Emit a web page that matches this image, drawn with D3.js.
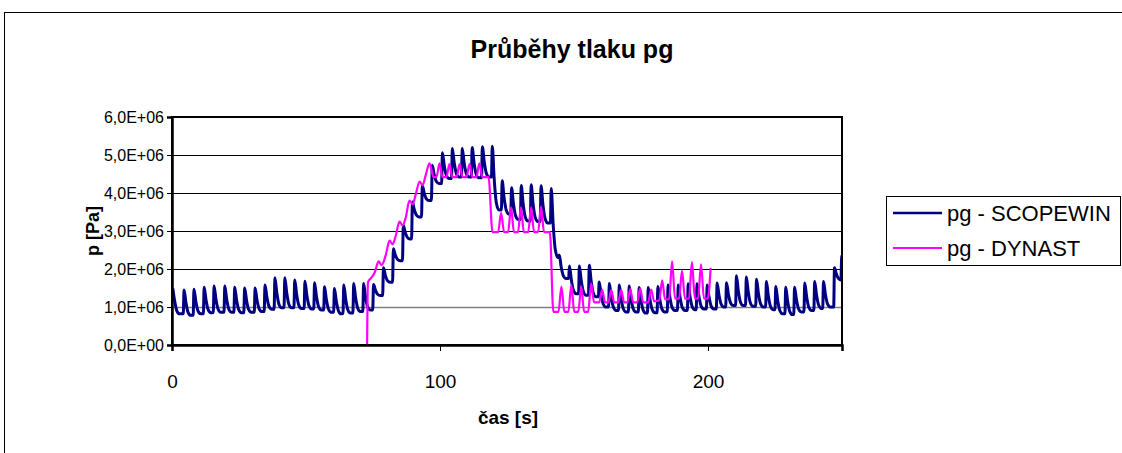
<!DOCTYPE html>
<html>
<head>
<meta charset="utf-8">
<script src="https://cdn.jsdelivr.net/npm/d3@7"></script>
<style>
  body { margin: 0; background: #fff; }
  text { font-family: "Liberation Sans", Arial, sans-serif; }
</style>
</head>
<body>
<svg id="chart" width="1122" height="453"></svg>
<script>
// ---- data (time in s, pressure in MPa) ----
var seriesNames = ["pg - SCOPEWIN", "pg - DYNAST"];
var xTicks = [0, 100, 200];
var yTicks = [0, 1e6, 2e6, 3e6, 4e6, 5e6, 6e6];

// SCOPEWIN: one row per pulse -> start time, peak, low after the pulse
var scopeT = [0.0, 4.2, 7.9, 11.7, 15.4, 19.4, 23.1, 26.8, 30.7, 34.4, 38.1, 41.8, 45.5, 49.3, 52.9, 56.6,
              60.3, 63.8, 67.5, 71.2, 74.9, 78.6, 82.3, 86.0, 89.4, 93.1, 96.8, 100.6, 104.3, 108.0, 111.7,
              115.5, 119.2, 122.9, 126.4, 130.0, 133.7, 137.4, 141.2, 144.2, 148.0, 151.7, 155.4, 159.1,
              162.9, 166.6, 170.3, 174.0, 177.4, 181.0, 184.8, 188.6, 192.3, 195.6, 199.4, 203.1, 206.6,
              210.3, 214.0, 217.8, 221.5, 225.0, 228.7, 232.0, 235.8, 239.5, 242.8, 246.9, 249.6];
var scopePeak = [1.49, 1.45, 1.47, 1.52, 1.55, 1.55, 1.52, 1.50, 1.50, 1.58, 1.77, 1.77, 1.71, 1.68, 1.64, 1.53,
                 1.49, 1.58, 1.62, 1.62, 1.59, 2.03, 2.53, 3.15, 3.76, 4.20, 4.73, 5.06, 5.17, 5.17, 5.20,
                 5.22, 5.23, 4.32, 4.14, 4.20, 4.22, 4.19, 4.12, 2.37, 2.08, 2.08, 2.10, 1.66,
                 1.62, 1.58, 1.55, 1.51, 1.51, 1.54, 1.58, 1.58, 1.61, 1.61, 1.58, 1.63, 1.64,
                 1.82, 1.79, 1.73, 1.67, 1.54, 1.52, 1.52, 1.63, 1.67, 1.67, 2.03, 2.35];
var scopeLow = [0.82, 0.78, 0.82, 0.85, 0.86, 0.86, 0.85, 0.86, 0.88, 0.94, 0.98, 0.98, 0.96, 0.95, 0.92, 0.86,
                0.82, 0.84, 0.88, 0.92, 1.30, 1.65, 2.22, 2.79, 3.37, 3.80, 4.25, 4.38, 4.42, 4.42, 4.40,
                4.42, 3.55, 3.45, 3.30, 3.26, 3.25, 3.21, 2.30, 1.75, 1.35, 1.31, 1.27, 1.00,
                0.91, 0.87, 0.87, 0.84, 0.85, 0.87, 0.91, 0.91, 0.93, 0.95, 0.95, 1.00, 1.04,
                1.04, 1.02, 1.00, 0.93, 0.82, 0.80, 0.87, 0.91, 0.96, 1.00, 1.71, 2.00];

// DYNAST: plain points
var dynT = [72.8, 73.1, 74.5, 75.6, 77.1, 78.2, 79.7, 81.2, 82.3, 83.4, 84.9, 86.0, 87.2, 88.6, 89.8, 90.9,
            92.4, 93.5, 94.6, 96.1, 97.6,
            98.7, 99.8, 100.9, 102.4, 103.5, 104.6, 106.2, 107.3, 108.4, 109.9, 111.0, 112.1, 113.6, 114.7, 115.8,
            118.1, 119.6,
            121.7, 122.8, 123.9, 125.4, 126.5, 127.6, 129.1, 130.2, 131.3, 132.9, 134.0, 135.1, 136.6, 137.7, 138.8,
            141.0, 142.3,
            144.2, 145.3, 146.4, 147.9, 149.0, 150.1, 151.6, 152.7, 153.8, 155.3, 156.4, 157.5,
            159.4, 160.5, 161.6, 162.8, 163.9, 165.0, 166.5, 167.6, 168.7, 169.9, 171.0, 172.1,
            173.6, 174.7, 175.8, 177.7, 178.8, 179.9, 181.8, 182.9, 184.0, 185.5, 186.6, 187.7,
            189.2, 190.3, 191.4, 192.9, 194.0, 195.1, 196.3, 197.4, 198.5, 199.9, 201.0];
var dynP = [0.00, 1.65, 1.78, 1.90, 2.20, 2.10, 2.35, 2.75, 2.65, 2.85, 3.25, 3.15, 3.35, 3.80, 3.70, 3.95,
            4.30, 4.20, 4.45, 4.78, 4.42,
            4.42, 4.78, 4.42, 4.42, 4.76, 4.42, 4.42, 4.76, 4.42, 4.42, 4.76, 4.42, 4.42, 4.78, 4.42,
            4.42, 2.97,
            2.97, 3.48, 2.97, 2.97, 3.62, 2.97, 2.97, 3.62, 2.97, 2.97, 3.62, 2.97, 2.97, 3.64, 2.97,
            2.97, 0.87,
            0.87, 1.54, 0.87, 0.87, 1.58, 0.87, 0.87, 1.54, 0.87, 0.87, 1.62, 1.12,
            1.12, 1.45, 1.12, 1.12, 1.45, 1.12, 1.12, 1.45, 1.12, 1.12, 1.47, 1.12,
            1.12, 1.49, 1.12, 1.13, 1.46, 1.15, 1.17, 1.70, 1.20, 1.20, 2.20, 1.22,
            1.22, 1.96, 1.22, 1.22, 2.18, 1.22, 1.22, 2.12, 1.22, 1.22, 2.03];

/*---------------------------------------------------------------
                        build point tables
---------------------------------------------------------------*/
// each pulse: steep rise, fast fall, rounded bottom just before the next pulse
var scopePts = [];
for (var i = 0; i < scopeT.length; i++) {
    var t = scopeT[i], P = scopePeak[i], L = scopeLow[i];
    if (i > 0) scopePts.push([t, scopeLow[i - 1]]);
    scopePts.push([t + 0.3, P]);
    scopePts.push([t + 1.0, L + 0.5 * (P - L)]);
    scopePts.push([t + 1.8, L + 0.12 * (P - L)]);
    scopePts.push([t + 2.8, L]);
}
var dynPts = dynT.map((t, i) => [t, dynP[i]]);

/*---------------------------------------------------------------
                              chart
---------------------------------------------------------------*/
var svg = d3.select("#chart");
var plot = {left: 172, top: 117, right: 842, bottom: 345};

var x = d3.scaleLinear().domain([0, 250]).range([plot.left, plot.right]);
var y = d3.scaleLinear().domain([0, 6e6]).range([plot.bottom, plot.top]);

svg.append("rect").attr("width", 1122).attr("height", 453).attr("fill", "#fff");
// outer chart frame (runs off the picture to the right and bottom)
svg.append("rect").attr("x", 4.5).attr("y", 12.5).attr("width", 1130).attr("height", 460)
    .attr("fill", "none").attr("stroke", "#000").attr("stroke-width", 1);

svg.append("text").attr("x", 572).attr("y", 58).attr("text-anchor", "middle")
    .style("font-size", "25px").style("font-weight", "bold").text("Průběhy tlaku pg");

// gridlines
svg.append("g").selectAll("line").data(yTicks.filter(d => d > 0 && d < 6e6)).join("line")
    .attr("x1", plot.left).attr("x2", plot.right)
    .attr("y1", d => Math.round(y(d)) + 0.5).attr("y2", d => Math.round(y(d)) + 0.5)
    .attr("stroke", d => d === 1e6 ? "#808080" : "#000")
    .attr("stroke-width", d => d === 1e6 ? 1.5 : 1);

// series
svg.append("clipPath").attr("id", "clip").append("rect")
    .attr("x", plot.left).attr("y", plot.top - 2)
    .attr("width", plot.right - plot.left).attr("height", plot.bottom - plot.top + 2);

var line = d3.line().x(d => x(d[0])).y(d => y(d[1] * 1e6)).curve(d3.curveMonotoneX);

svg.append("path").datum(scopePts).attr("clip-path", "url(#clip)")
    .attr("d", line).attr("fill", "none").attr("stroke", "#000080")
    .attr("stroke-width", 3).attr("stroke-linejoin", "round");
svg.append("path").datum(dynPts).attr("clip-path", "url(#clip)")
    .attr("d", line).attr("fill", "none").attr("stroke", "#ff00ff")
    .attr("stroke-width", 2.2).attr("stroke-linejoin", "round");

// plot frame
svg.append("rect").attr("x", plot.left).attr("y", plot.top)
    .attr("width", plot.right - plot.left).attr("height", plot.bottom - plot.top)
    .attr("fill", "none").attr("stroke", "#000").attr("stroke-width", 2);

// axes
var yAxis = d3.axisLeft(y).tickValues(yTicks).tickSize(5).tickPadding(3)
    .tickFormat(d => d === 0 ? "0,0E+00" : (d / 1e6).toFixed(1).replace(".", ",") + "E+06");
var gy = svg.append("g").attr("transform", "translate(" + plot.left + ",0)").call(yAxis);

var xAxis = d3.axisBottom(x).tickValues(xTicks).tickSize(6).tickPadding(24);
var gx = svg.append("g").attr("transform", "translate(0," + plot.bottom + ")").call(xAxis);

[gx, gy].forEach(function(g) {
    g.select(".domain").attr("stroke", "#000").attr("stroke-width", 2.5);
    g.selectAll(".tick line").attr("stroke", "#000").attr("stroke-width", 1);
    g.selectAll(".tick text").attr("fill", "#000")
        .style("font-family", "'Liberation Sans', Arial, sans-serif");
});
gy.selectAll(".tick text").style("font-size", "16px");
gx.selectAll(".tick text").style("font-size", "19px");

svg.append("text").attr("x", 508).attr("y", 424).attr("text-anchor", "middle")
    .style("font-size", "19px").style("font-weight", "bold").text("čas [s]");
svg.append("text").attr("transform", "translate(99,231) rotate(-90)").attr("text-anchor", "middle")
    .style("font-size", "18px").style("font-weight", "bold").text("p [Pa]");

// legend
var legend = svg.append("g");
legend.append("rect").attr("x", 886.5).attr("y", 196.5).attr("width", 234).attr("height", 69)
    .attr("fill", "#fff").attr("stroke", "#000").attr("stroke-width", 1);
var colors = ["#000080", "#ff00ff"];
seriesNames.forEach(function(name, i) {
    var ly = 213 + i * 35;
    legend.append("line").attr("x1", 893).attr("x2", 942).attr("y1", ly).attr("y2", ly)
        .attr("stroke", colors[i]).attr("stroke-width", i === 0 ? 2.6 : 2);
    legend.append("text").attr("x", 947).attr("y", ly + 8)
        .style("font-size", "22px").text(name);
});
</script>
</body>
</html>
